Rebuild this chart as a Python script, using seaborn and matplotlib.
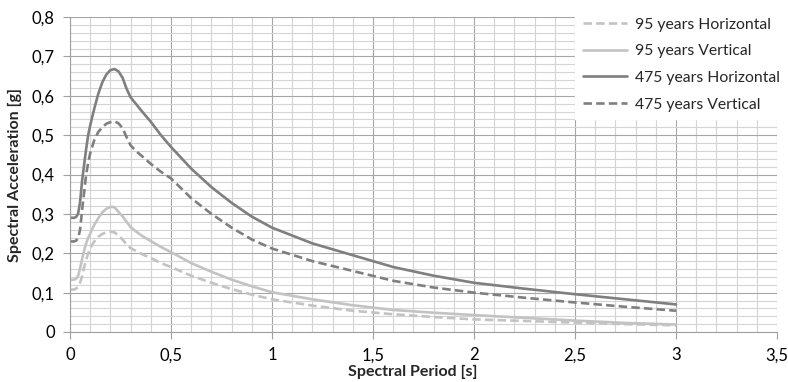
import matplotlib
matplotlib.use("Agg")
import matplotlib.pyplot as plt
from matplotlib.ticker import MultipleLocator, FuncFormatter
import seaborn as sns
import pandas as pd

periods = [0, 0.02, 0.03, 0.04, 0.05, 0.06, 0.07, 0.08, 0.09, 0.10, 0.12, 0.14, 0.16, 0.18,
           0.20, 0.22, 0.24, 0.26, 0.28, 0.30, 0.33, 0.36, 0.40, 0.45, 0.50, 0.60, 0.70,
           0.80, 0.90, 1.00, 1.20, 1.40, 1.60, 1.80, 2.00, 2.25, 2.50, 2.75, 3.00]

h95 = [0.107, 0.108, 0.110, 0.115, 0.125, 0.142, 0.165, 0.183, 0.200, 0.213, 0.230, 0.242, 0.249, 0.253,
       0.255, 0.253, 0.245, 0.235, 0.222, 0.213, 0.205, 0.197, 0.188, 0.175, 0.165, 0.143, 0.125,
       0.109, 0.095, 0.083, 0.067, 0.054, 0.045, 0.038, 0.032, 0.028, 0.024, 0.020, 0.017]
v95 = [0.132, 0.133, 0.135, 0.142, 0.162, 0.185, 0.207, 0.225, 0.239, 0.250, 0.272, 0.289, 0.304, 0.313,
       0.318, 0.317, 0.305, 0.294, 0.280, 0.266, 0.254, 0.243, 0.231, 0.216, 0.203, 0.175, 0.153,
       0.133, 0.116, 0.101, 0.083, 0.068, 0.056, 0.049, 0.043, 0.036, 0.029, 0.023, 0.019]
h475 = [0.290, 0.290, 0.292, 0.300, 0.330, 0.385, 0.425, 0.465, 0.500, 0.525, 0.567, 0.605, 0.634, 0.654,
        0.665, 0.668, 0.662, 0.646, 0.618, 0.596, 0.577, 0.558, 0.534, 0.500, 0.470, 0.415, 0.368,
        0.328, 0.293, 0.265, 0.225, 0.195, 0.165, 0.143, 0.125, 0.110, 0.096, 0.083, 0.070]
v475 = [0.230, 0.230, 0.232, 0.238, 0.260, 0.310, 0.355, 0.400, 0.430, 0.454, 0.487, 0.508, 0.520, 0.529,
        0.533, 0.535, 0.530, 0.518, 0.495, 0.474, 0.458, 0.445, 0.427, 0.407, 0.390, 0.340, 0.300,
        0.265, 0.235, 0.212, 0.180, 0.155, 0.130, 0.113, 0.100, 0.087, 0.075, 0.064, 0.054]

labels = ["95 years Horizontal", "95 years Vertical", "475 years Horizontal", "475 years Vertical"]
series = [h95, v95, h475, v475]
colors = ["#c3c3c3", "#c3c3c3", "#7f7f7f", "#7f7f7f"]
dashed = [True, False, False, True]

sns.set_theme(style="white")
plt.rcParams["font.family"] = ["Lato", "DejaVu Sans"]

fig = plt.figure(figsize=(7.88, 3.82), dpi=100)
ax = fig.add_axes([70/788, 1-332/382, (777-70)/788, (332-17)/382])

for lab, vals, col, dsh in zip(labels, series, colors, dashed):
    df = pd.DataFrame({"T": periods, "Sa": vals})
    sns.lineplot(data=df, x="T", y="Sa", ax=ax, color=col, lw=1.9, label=lab)
    line = ax.lines[-1]
    line.set_solid_joinstyle("round")
    if dsh:
        line.set_dashes((3.2, 1.6))

ax.set_xlim(0, 3.5)
ax.set_ylim(0, 0.8)
ax.xaxis.set_major_locator(MultipleLocator(0.5))
ax.xaxis.set_minor_locator(MultipleLocator(0.1))
ax.yaxis.set_major_locator(MultipleLocator(0.1))
ax.yaxis.set_minor_locator(MultipleLocator(0.02))

fmt = FuncFormatter(lambda v, p: ("%g" % round(v, 2)).replace(".", ","))
ax.xaxis.set_major_formatter(fmt)
ax.yaxis.set_major_formatter(fmt)

ax.grid(True, which="minor", color="#d4d4d4", lw=0.8)
ax.grid(True, which="major", color="#a6a6a6", lw=0.8)
ax.set_axisbelow(True)

for s in ["top", "right"]:
    ax.spines[s].set_visible(False)
for s in ["left", "bottom"]:
    ax.spines[s].set_color("#a0a0a0")
    ax.spines[s].set_linewidth(0.8)

ax.tick_params(axis="both", which="major", direction="out", length=5, width=0.8,
               color="#a0a0a0", labelsize=12, labelcolor="#000000", pad=6,
               bottom=True, left=True)
ax.tick_params(axis="both", which="minor", length=0)

ax.set_xlabel("Spectral Period [s]", fontsize=11.5, fontweight="bold", labelpad=1, x=0.485)
ax.set_ylabel("Spectral Acceleration [g]", fontsize=11.5, fontweight="bold", labelpad=7)

leg = ax.legend(loc="upper left", bbox_to_anchor=(575/788, 1-10/382), bbox_transform=fig.transFigure,
                frameon=True, fontsize=11.3, handlelength=2.8, handletextpad=0.55,
                labelspacing=0.8, borderpad=0.5, borderaxespad=0, fancybox=False)
leg.get_frame().set_facecolor("white")
leg.get_frame().set_edgecolor("white")
leg.get_frame().set_alpha(1)

fig.savefig("out.png", dpi=100)
